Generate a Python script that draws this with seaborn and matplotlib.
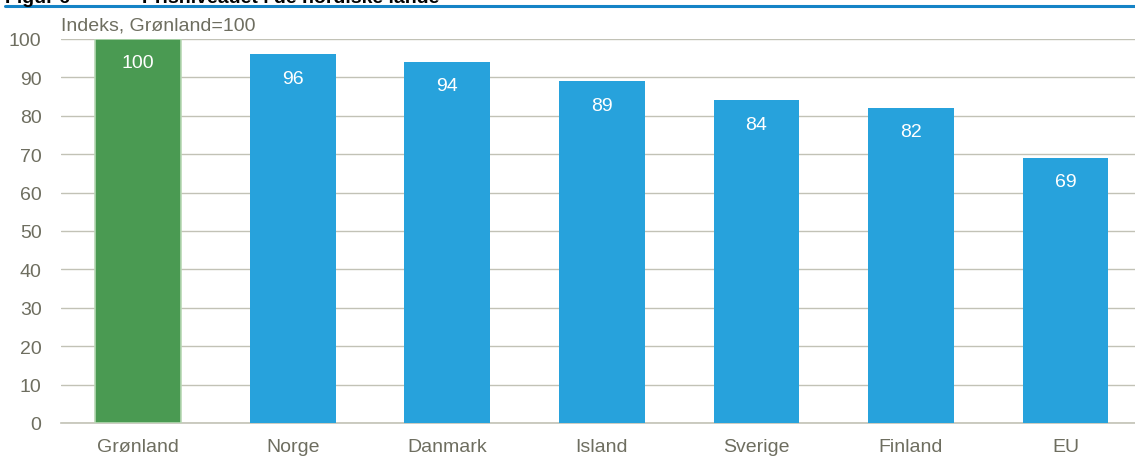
import matplotlib
matplotlib.use("Agg")
import matplotlib.pyplot as plt
import seaborn as sns
import pandas as pd
from matplotlib.lines import Line2D

categories = ["Grønland", "Norge", "Danmark", "Island", "Sverige", "Finland", "EU"]
values = [100, 96, 94, 89, 84, 82, 69]
labels = ["100", "96", "94", "89", "84", "82", "69"]
yticks = [0, 10, 20, 30, 40, 50, 60, 70, 80, 90, 100]

sns.set_theme(style="white")
plt.rcParams['font.family'] = ['Liberation Sans Narrow', 'Liberation Sans', 'DejaVu Sans']

grey = "#6e6e60"
grid = "#c2c2b6"
green = "#4a9a52"
blue = "#27a2dc"

df = pd.DataFrame({"land": categories, "v": values})

fig = plt.figure(figsize=(11.35, 4.6), dpi=100)
ax = fig.add_axes([61/1135, 36/460, (1135-61)/1135, 384/460])

palette = [green] + [blue] * (len(categories) - 1)
sns.barplot(data=df, x="land", y="v", hue="land", palette=palette, legend=False,
            width=0.555, ax=ax, saturation=1, zorder=3)
for i, p in enumerate(ax.patches):
    if i == 0:
        p.set_edgecolor("#b7d8b4")
        p.set_linewidth(1.2)
    else:
        p.set_edgecolor("none")

for i, (v, lab) in enumerate(zip(values, labels)):
    ax.text(i, v - 6.2, lab, ha="center", va="center", color="white", fontsize=14)

ax.set_ylim(0, 100)
ax.set_xlim(-0.5, 6.45)
ax.set_yticks(yticks)
ax.set_yticklabels([str(t) for t in yticks])
ax.yaxis.grid(True, color=grid, linewidth=1, zorder=0)
for s in ["top", "right", "left"]:
    ax.spines[s].set_visible(False)
ax.spines["bottom"].set_color(grid)
ax.spines["bottom"].set_linewidth(1.2)
ax.tick_params(axis="both", length=0, labelsize=14, colors=grey)
ax.tick_params(axis="y", pad=14)
ax.tick_params(axis="x", pad=11)
ax.set_xlabel("")
ax.set_ylabel("")

fig.text(61/1135, 1 - 26/460, "Indeks, Grønland=100", ha="left", va="center", color=grey, fontsize=14)

# header (cut off at the top edge, as in the reference)
fig.add_artist(Line2D([5/1135, 1], [1 - 6.5/460, 1 - 6.5/460], color="#1583c6", linewidth=2.2))
fig.text(5/1135, 1 - 3/460, "Figur 6", ha="left", va="baseline", fontsize=14, fontweight="bold", color="black",
         family=['Liberation Sans', 'DejaVu Sans'])
fig.text(142/1135, 1 - 3/460, "Prisniveauet i de nordiske lande", ha="left", va="baseline", fontsize=14,
         fontweight="bold", color="black", family=['Liberation Sans', 'DejaVu Sans'])

fig.savefig("out.png", dpi=100)
